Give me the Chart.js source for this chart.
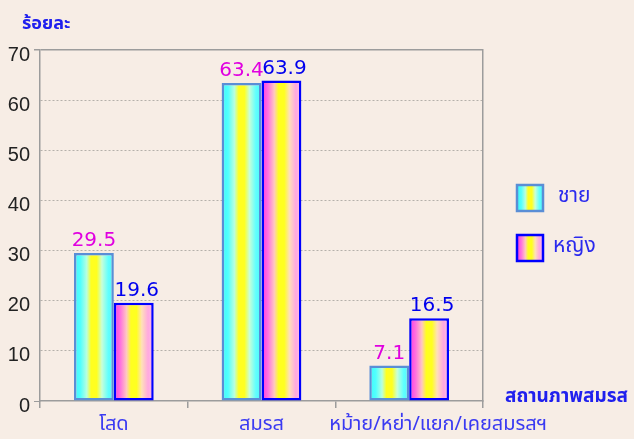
<!DOCTYPE html>
<html><head><meta charset="utf-8">
<script src="https://cdn.jsdelivr.net/npm/chart.js@4"></script>
<style>
html,body{margin:0;padding:0;background:#f7ede5;}
#wrap{width:634px;height:439px;position:relative;}
</style>
</head><body>
<div id="wrap"><canvas id="c" width="634" height="439"></canvas></div>
<script>
// ---- data ----
const categories = ['โสด', 'สมรส', 'หม้าย/หย่า/แยก/เคยสมรสฯ'];
const seriesNames = ['ชาย', 'หญิง'];
const maleValues = [29.5, 63.4, 7.1];
const femaleValues = [19.6, 63.9, 16.5];
const yTickValues = [0, 10, 20, 30, 40, 50, 60, 70];
const yAxisTitle = 'ร้อยละ';
const xAxisTitle = 'สถานภาพสมรส';

// ---- styles ----
const BG = '#f7ede5';
const AXIS = '#9c9c9c';
const THAI = "'Noto Sans Thai','Loma','Tahoma','DejaVu Sans',sans-serif";
const NUM = "'DejaVu Sans',sans-serif";
const maleStyle = { border: '#5a8ed6', label: '#e000e0',
  stops: [[0, '#40f8f8'], [0.16, '#50ffff'], [0.32, '#b8ffe0'], [0.43, '#ffff20'], [0.57, '#ffff20'], [0.7, '#c8ffd8'], [0.86, '#60ffff'], [1, '#50f8f8']] };
const femaleStyle = { border: '#0000ff', label: '#0000ee',
  stops: [[0, '#ff38e0'], [0.16, '#ff70e0'], [0.32, '#ffc8c0'], [0.43, '#ffff20'], [0.57, '#ffff20'], [0.7, '#ffe0b8'], [0.86, '#ffa8e0'], [1, '#ffc0e8']] };
const styles = [maleStyle, femaleStyle];

const gradientPlugin = {
  id: 'gradientBars',
  beforeDatasetsDraw(chart) {
    const ctx = chart.ctx;
    chart.data.datasets.forEach((ds, i) => {
      const meta = chart.getDatasetMeta(i);
      meta.data.forEach(el => {
        const p = el.getProps(['x', 'width'], true);
        const g = ctx.createLinearGradient(p.x - p.width / 2, 0, p.x + p.width / 2, 0);
        styles[i].stops.forEach(s => g.addColorStop(s[0], s[1]));
        el.options.backgroundColor = g;
      });
    });
  }
};

const labelPlugin = {
  id: 'valueLabels',
  afterDatasetsDraw(chart) {
    const ctx = chart.ctx;
    ctx.save();
    ctx.font = '20px ' + NUM;
    ctx.textAlign = 'center';
    ctx.textBaseline = 'bottom';
    chart.data.datasets.forEach((ds, i) => {
      const meta = chart.getDatasetMeta(i);
      meta.data.forEach((el, j) => {
        ctx.fillStyle = styles[i].label;
        ctx.fillText(String(ds.data[j]), el.x + (i === 1 ? 3 : 0), el.y - 2);
      });
    });
    ctx.restore();
  }
};

const decoPlugin = {
  id: 'deco',
  beforeDraw(chart) {
    const ctx = chart.ctx;
    ctx.save();
    ctx.fillStyle = BG;
    ctx.fillRect(0, 0, chart.width, chart.height);
    ctx.restore();
    // the long last category label sits further right in the original
    const xs = chart.scales.x;
    const items = xs.getLabelItems();
    if (items[2] && !items[2]._shifted) { items[2].options.translation[0] += 29; items[2]._shifted = true; }
  },
  afterDraw(chart) {
    const ctx = chart.ctx;
    ctx.save();
    ctx.fillStyle = '#2020ee';
    ctx.textBaseline = 'middle';
    ctx.textAlign = 'left';
    ctx.font = 'bold 18px ' + THAI;
    ctx.fillText(yAxisTitle, 22, 25);
    ctx.font = 'bold 19px ' + THAI;
    ctx.fillText(xAxisTitle, 505, 398);
    // legend
    chart.data.datasets.forEach((ds, i) => {
      const bx = 517, by = 185 + i * 50, bw = 26, bh = 26;
      const g = ctx.createLinearGradient(bx, 0, bx + bw, 0);
      styles[i].stops.forEach(s => g.addColorStop(s[0], s[1]));
      ctx.fillStyle = g;
      ctx.fillRect(bx, by, bw, bh);
      ctx.strokeStyle = styles[i].border;
      ctx.lineWidth = 2.5;
      ctx.strokeRect(bx, by, bw, bh);
      ctx.fillStyle = '#2a2aee';
      ctx.font = '21px ' + THAI;
      ctx.fillText(ds.label, i === 0 ? 558 : 553, by + bh / 2);
    });
    ctx.restore();
  }
};

new Chart(document.getElementById('c'), {
  type: 'bar',
  data: {
    labels: categories,
    datasets: [
      { label: seriesNames[0], data: maleValues, borderColor: maleStyle.border, borderWidth: 2.5,
        backgroundColor: () => '#40ffff', borderSkipped: false },
      { label: seriesNames[1], data: femaleValues, borderColor: femaleStyle.border, borderWidth: 2.5,
        backgroundColor: () => '#ff40e0', borderSkipped: false }
    ]
  },
  options: {
    responsive: false,
    animation: false,
    devicePixelRatio: 1,
    layout: { padding: { top: 50, left: 0, right: 0, bottom: 0 } },
    datasets: { bar: { barPercentage: 1, categoryPercentage: 0.54 } },
    plugins: { legend: { display: false }, tooltip: { enabled: false } },
    scales: {
      x: {
        offset: true,
        grid: { offset: true, drawOnChartArea: false, drawTicks: true, tickLength: 7, color: AXIS, lineWidth: 1.5 },
        border: { display: true, color: AXIS, width: 1.5 },
        ticks: { color: '#3a3af2', font: { family: THAI, size: 20 }, padding: 6, maxRotation: 0, autoSkip: false },
        afterFit(s) { s.height = 38; }
      },
      y: {
        min: 0, max: 70,
        afterBuildTicks(s) { s.ticks = yTickValues.map(v => ({ value: v })); },
        grid: {
          color: c => (c.tick && c.tick.value === 0) ? 'rgba(0,0,0,0)' : (c.tick && c.tick.value === 70 ? AXIS : '#b5b0aa'),
          lineWidth: c => (c.tick && c.tick.value === 70) ? 1.5 : 1,
          tickLength: 6,
          tickColor: c => (c.tick && (c.tick.value === 0 || c.tick.value === 70)) ? AXIS : 'rgba(0,0,0,0)'
        },
        border: { display: true, color: AXIS, width: 1.5, dash: c => (c.tick && c.tick.value === 70) ? [] : [2, 2] },
        ticks: { color: '#222', font: { family: "'Liberation Sans',sans-serif", size: 20 }, padding: 4, labelOffset: 5 },
        afterFit(s) { s.width = 40; }
      },
      y2: {
        position: 'right', min: 0, max: 70,
        grid: { drawOnChartArea: false, drawTicks: false },
        border: { display: true, color: AXIS, width: 1.5 },
        ticks: { display: false },
        afterFit(s) { s.width = 151; }
      }
    }
  },
  plugins: [gradientPlugin, labelPlugin, decoPlugin]
});
</script>
</body></html>
